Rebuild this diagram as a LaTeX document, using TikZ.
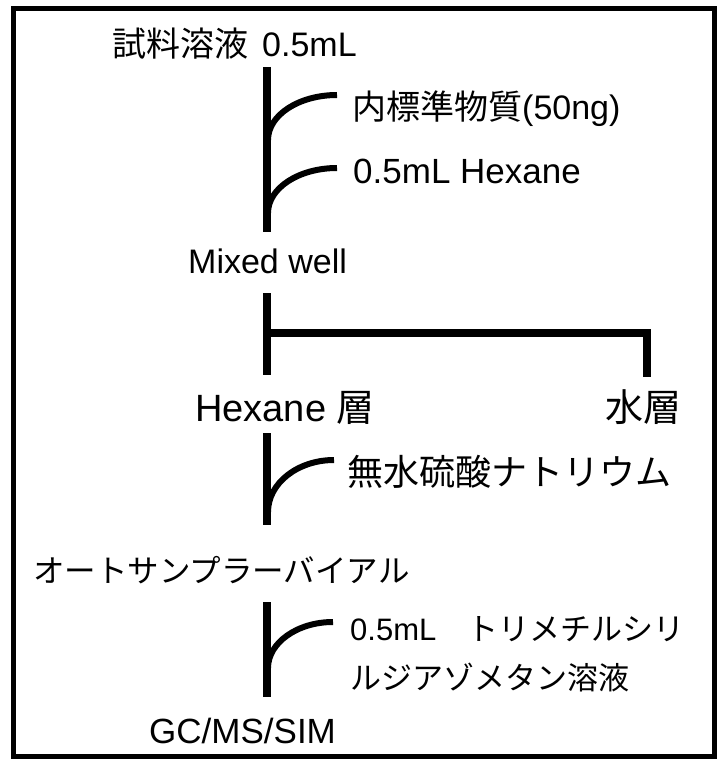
\documentclass[tikz,border=0pt]{standalone}
\usepackage{fontspec}
\setmainfont{Liberation Sans}
\newfontfamily\jp{Noto Sans CJK JP}
\begin{document}
\begin{tikzpicture}[x=1pt,y=-1pt,
  lbl/.style={inner sep=0pt, anchor=base west},
  stem/.style={line width=7.5pt},
  feed/.style={line width=6pt},
  framebox/.style={line width=5pt}]
\useasboundingbox (0,0) rectangle (719,762);
\draw[framebox] (13,9) rectangle (714,756);

% texts
\node[lbl, font=\fontsize{34}{40}\selectfont] (sample) at (112,57) {{\jp 試料溶液}\hspace{14pt}0.5mL};
\node[lbl, font=\fontsize{34}{40}\selectfont] (istd) at (352,120) {{\jp 内標準物質}(50ng)};
\node[lbl, font=\fontsize{35}{40}\selectfont] (hex) at (353,183) {0.5mL Hexane};
\node[lbl, font=\fontsize{34}{40}\selectfont] (mixed) at (188,273) {Mixed well};
\node[lbl, font=\fontsize{38}{44}\selectfont] (hexl) at (195,421) {Hexane {\jp 層}};
\node[lbl, font=\fontsize{38}{44}\selectfont] (aq) at (605,421) {\jp 水層};
\node[lbl, font=\fontsize{36}{42}\selectfont] (na) at (347,485) {\jp 無水硫酸ナトリウム};
\node[lbl, font=\fontsize{31.5}{40}\selectfont] (vial) at (33,582) {\jp オートサンプラーバイアル};
\node[lbl, font=\fontsize{31}{49}\selectfont, align=left] (tms) at (350,689) {0.5mL{\jp 　トリメチルシリ}\\{\jp ルジアゾメタン溶液}};
\node[lbl, font=\fontsize{35}{40}\selectfont] (gc) at (149,743) {GC/MS/SIM};

% connector points
\coordinate (s1t) at (267,67);
\coordinate (s1b) at (267,232);
\coordinate (c1a) at (268,140);
\coordinate (c1b) at (337,95);
\coordinate (c2a) at (268,213);
\coordinate (c2b) at (337,168);
\coordinate (s2t) at (267,293);
\coordinate (s2b) at (267,375);
\coordinate (hl) at (267,333);
\coordinate (hr) at (647,333);
\coordinate (rb) at (647,377);
\coordinate (s3t) at (267,433);
\coordinate (s3b) at (267,525);
\coordinate (c3a) at (268,512);
\coordinate (c3b) at (334,460);
\coordinate (s4t) at (267,602);
\coordinate (s4b) at (267,697);
\coordinate (c4a) at (268,668);
\coordinate (c4b) at (333,622);

% connectors
\draw[stem] (s1t) -- (s1b);
\draw[feed] (c1a) .. controls (268,115) and (299,95) .. (c1b);
\draw[feed] (c2a) .. controls (268,188) and (299,168) .. (c2b);
\draw[stem] (s2t) -- (s2b);
\draw[stem, line join=miter] (hl) -- (hr) -- (rb);
\draw[stem] (s3t) -- (s3b);
\draw[feed] (c3a) .. controls (268,483) and (298,460) .. (c3b);
\draw[stem] (s4t) -- (s4b);
\draw[feed] (c4a) .. controls (268,643) and (297,622) .. (c4b);
\end{tikzpicture}
\end{document}
